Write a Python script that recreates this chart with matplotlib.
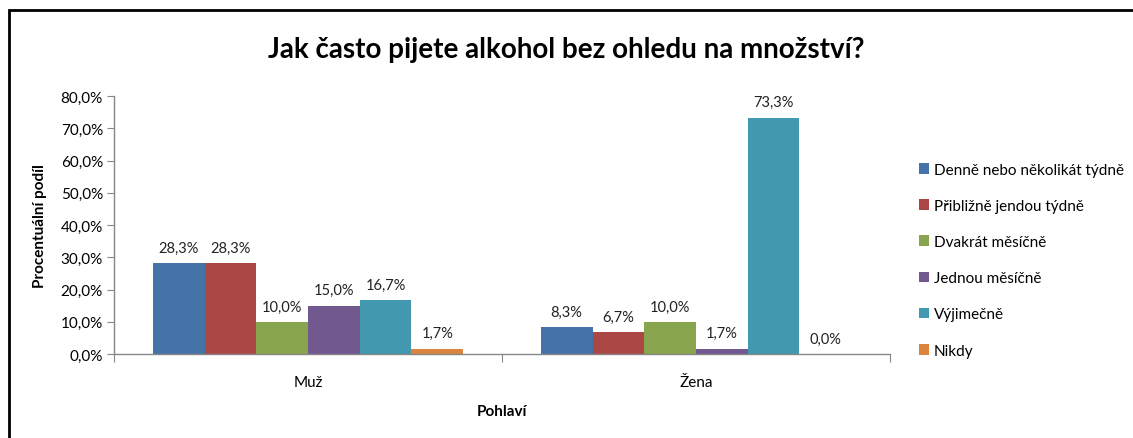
import numpy as np
import matplotlib.pyplot as plt
from matplotlib.patches import Rectangle
from matplotlib.ticker import FuncFormatter

plt.rcParams['font.family'] = ['Lato', 'DejaVu Sans']
plt.rcParams['font.size'] = 10

groups = ['Muž', 'Žena']
series = ['Denně nebo několikát týdně', 'Přibližně jendou týdně', 'Dvakrát měsíčně',
          'Jednou měsíčně', 'Výjimečně', 'Nikdy']
values = [
    [28.3, 8.3],
    [28.3, 6.7],
    [10.0, 10.0],
    [15.0, 1.7],
    [16.7, 73.3],
    [1.7, 0.0],
]
colors = ['#4572A7', '#AA4643', '#89A54E', '#71588F', '#4198AF', '#DB843D']

W, H = 1133, 439
fig = plt.figure(figsize=(W / 100, H / 100), dpi=100)
ax = fig.add_axes([114 / W, 1 - 355 / H, (890 - 114) / W, (355 - 97) / H])

x = np.arange(len(groups))
bw = 0.8 / len(series)
for i, (name, vals, c) in enumerate(zip(series, values, colors)):
    pos = x - 0.4 + bw * (i + 0.5)
    ax.bar(pos, vals, bw, color=c, label=name, zorder=2)
    for p, v in zip(pos, vals):
        ax.annotate(f'{v:.1f}%'.replace('.', ','), (p, v), xytext=(0, 6),
                    textcoords='offset points', ha='center', va='bottom',
                    fontsize=10.5, color='#222222')

ax.set_xlim(-0.5, 1.5)
ax.set_ylim(0, 80)
ax.set_yticks(np.arange(0, 81, 10))
ax.yaxis.set_major_formatter(FuncFormatter(lambda v, _: f'{v:.1f}%'.replace('.', ',')))
ax.set_xticks([-0.5, 0.5, 1.5])
ax.set_xticklabels([])
ax.set_xticks(x, minor=True)
ax.set_xticklabels(groups, minor=True)
ax.tick_params(axis='x', which='major', length=6, color='#868686', direction='out')
ax.tick_params(axis='x', which='minor', length=0, pad=15, labelsize=11)
ax.tick_params(axis='y', length=5, color='#868686', direction='out', labelsize=11, pad=3)

for s in ['top', 'right']:
    ax.spines[s].set_visible(False)
for s in ['left', 'bottom']:
    ax.spines[s].set_color('#868686')
    ax.spines[s].set_linewidth(1)

ax.set_ylabel('Procentuální podíl', fontweight='bold', fontsize=11, labelpad=10)
fig.text(502 / W, 1 - 412 / H, 'Pohlaví', ha='center', va='center',
         fontweight='bold', fontsize=11)

fig.text(0.5, 1 - 50 / H, 'Jak často pijete alkohol bez ohledu na množství?',
         ha='center', va='center', fontsize=20, fontweight='bold')

leg = ax.legend(loc='upper left', bbox_to_anchor=(905 / W, 1 - 150 / H),
                bbox_transform=fig.transFigure, frameon=False, fontsize=11,
                handlelength=0.7, handleheight=0.7, handletextpad=0.3,
                labelspacing=1.45)

fig.add_artist(Rectangle((9 / W, -0.05), 1.2, 1 - 11 / H + 0.05, transform=fig.transFigure,
                         fill=False, edgecolor='black', linewidth=2))

fig.savefig('out.png', dpi=100)
